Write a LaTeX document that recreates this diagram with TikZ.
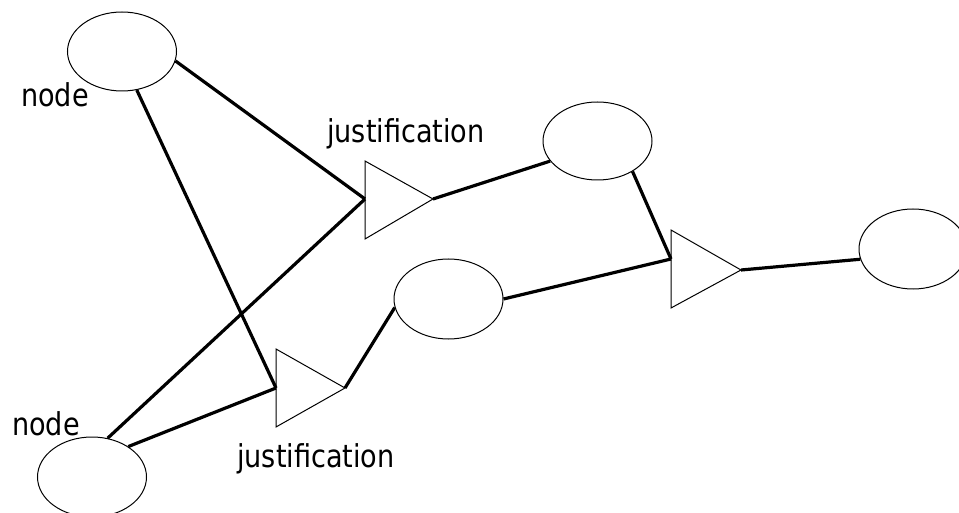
\documentclass[tikz,border=0pt]{standalone}
\usepackage{fontspec}
\setmainfont{DejaVu Sans}[FakeStretch=0.86]
\usetikzlibrary{shapes.geometric}
\begin{document}
\begin{tikzpicture}[x=1pt,y=-1pt,
  belief/.style={draw,ellipse,line width=1pt,inner sep=0pt,minimum width=109pt,minimum height=79pt},
  tri/.style={draw,line width=1pt,line join=miter},
  link/.style={line width=3.2pt},
  lbl/.style={anchor=base west,inner sep=0pt,font=\fontsize{31.5}{36}\selectfont}]
\clip (0,0) rectangle (959,513);
\useasboundingbox (0,0) rectangle (959,513);
% belief nodes
\node[belief] (e1) at (122,51.5) {};
\node[belief,minimum height=80pt] (e2) at (92,477) {};
\node[belief,minimum height=78pt] (e3) at (597.5,141) {};
\node[belief,minimum height=80pt] (e4) at (448.5,299) {};
\node[belief,minimum width=108pt,minimum height=80pt] (e5) at (913,249) {};
% justification triangles
\coordinate (t1a) at (365,161); \coordinate (t1tip) at (433,199); \coordinate (t1b) at (365,239); \coordinate (t1in) at (365,199);
\coordinate (t2a) at (276,349); \coordinate (t2tip) at (345,388); \coordinate (t2b) at (276,427); \coordinate (t2in) at (276,388);
\coordinate (t3a) at (671,230); \coordinate (t3tip) at (741,270); \coordinate (t3b) at (671,308); \coordinate (t3in) at (671,259);
\draw[tri] (t1a) -- (t1tip) -- (t1b) -- cycle;
\draw[tri] (t2a) -- (t2tip) -- (t2b) -- cycle;
\draw[tri] (t3a) -- (t3tip) -- (t3b) -- cycle;
% connectors
\draw[link] (e1.-10) -- (t1in);
\draw[link] (e1.-69) -- (t2in);
\draw[link] (e2.68.5) -- (t1in);
\draw[link] (e2.40) -- (t2in);
\draw[link] (t1tip) -- (e3.203.7);
\draw[link] (e3.-41) -- (t3in);
\draw[link] (t2tip) -- (e4.189.4);
\draw[link] (e4.0) -- (t3in);
\draw[link] (t3tip) -- (e5.191.7);
% labels
\node[lbl] (l1) at (21,107) {node};
\node[lbl] (l2) at (12,435) {node};
\node[lbl] (l3) at (327,142.5) {justification};
\node[lbl] (l4) at (237,467) {justification};
\end{tikzpicture}
\end{document}
